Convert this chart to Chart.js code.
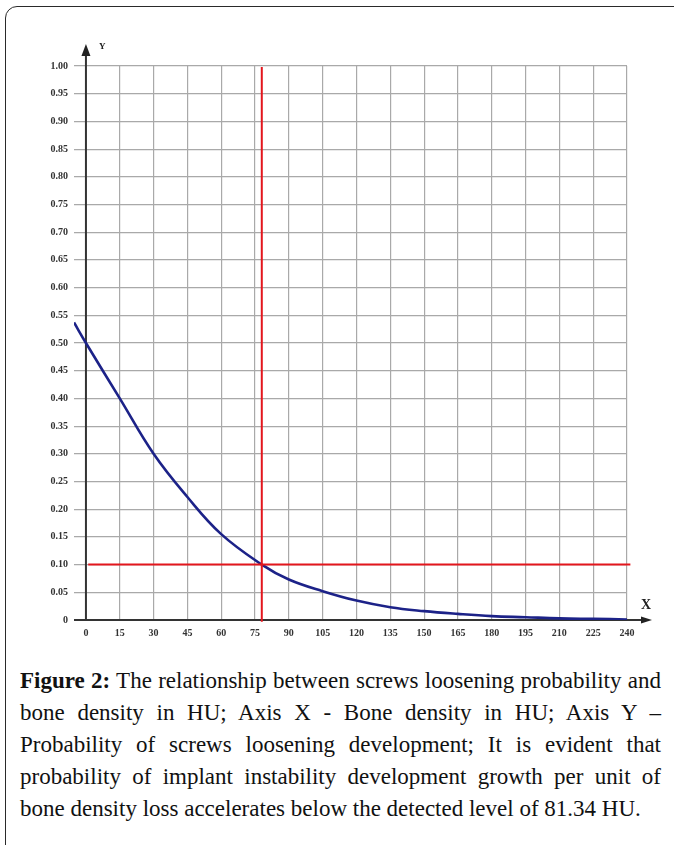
<!DOCTYPE html>
<html>
<head>
<meta charset="utf-8">
<script src="https://cdn.jsdelivr.net/npm/chart.js@4"></script>
<style>
  html, body { margin: 0; padding: 0; background: #fff; }
  body { width: 674px; height: 845px; position: relative; overflow: hidden; }
  #frame {
    position: absolute; left: 5px; top: 6px; width: 720px; height: 900px;
    border: 1.5px solid #2a2a2a; border-radius: 12px; box-sizing: border-box;
  }
  #chart { position: absolute; left: 0; top: 0; }
  #caption {
    position: absolute; left: 20px; top: 665px; width: 641px;
    font-family: "Liberation Serif", serif; font-size: 23px; line-height: 32px; color: #111;
  }
  #caption .ln { text-align: justify; text-align-last: justify; white-space: nowrap; }
  #caption .ln.last { text-align-last: left; }
  #caption b { font-weight: bold; }
</style>
</head>
<body>
<div id="frame"></div>
<canvas id="chart" width="674" height="660"></canvas>
<div id="caption">
  <div class="ln"><b>Figure 2:</b> The relationship between screws loosening probability and</div>
  <div class="ln">bone density in HU; Axis X - Bone density in HU; Axis Y –</div>
  <div class="ln">Probability of screws loosening development; It is evident that</div>
  <div class="ln">probability of implant instability development growth per unit of</div>
  <div class="ln last">bone density loss accelerates below the detected level of 81.34 HU.</div>
</div>
<script>
// значения
const boneDensity = [-5.3, 0, 15, 30, 45, 60, 78, 90, 105, 120, 135, 150, 165, 180, 195, 210, 225, 240];
const probability = [0.537, 0.50, 0.40, 0.30, 0.222, 0.155, 0.10, 0.073, 0.052, 0.035, 0.023, 0.016, 0.011, 0.007, 0.005, 0.003, 0.002, 0.001];
const xTicks = [0, 15, 30, 45, 60, 75, 90, 105, 120, 135, 150, 165, 180, 195, 210, 225, 240];
const yTicks = [0, 0.05, 0.10, 0.15, 0.20, 0.25, 0.30, 0.35, 0.40, 0.45, 0.50, 0.55, 0.60, 0.65, 0.70, 0.75, 0.80, 0.85, 0.90, 0.95, 1.00];
const thresholdX = 78;
const thresholdY = 0.10;

const tickFont = { family: 'Liberation Serif', size: 10, weight: 'bold' };

// стрелки осей и подписи X / Y
const axesPlugin = {
  id: 'axes',
  beforeDatasetsDraw(chart) {
    const ctx = chart.ctx;
    const xs = chart.scales.x, ys = chart.scales.y;
    const x0 = xs.getPixelForValue(0);
    const y0 = ys.getPixelForValue(0);
    const left = chart.chartArea.left;
    ctx.save();
    ctx.strokeStyle = '#333';
    ctx.fillStyle = '#222';
    ctx.lineWidth = 2;
    // ось Y
    ctx.beginPath();
    ctx.moveTo(x0, y0 + 1);
    ctx.lineTo(x0, 55);
    ctx.stroke();
    ctx.beginPath();
    ctx.moveTo(x0 - 4.5, 56);
    ctx.lineTo(x0, 44);
    ctx.lineTo(x0 + 4.5, 56);
    ctx.closePath();
    ctx.fill();
    // ось X
    ctx.beginPath();
    ctx.moveTo(left, y0);
    ctx.lineTo(642, y0);
    ctx.stroke();
    ctx.beginPath();
    ctx.moveTo(641, y0 - 3.5);
    ctx.lineTo(652, y0);
    ctx.lineTo(641, y0 + 3.5);
    ctx.closePath();
    ctx.fill();
    ctx.font = 'bold 9px "Liberation Serif"';
    ctx.textAlign = 'left';
    ctx.textBaseline = 'middle';
    ctx.fillText('Y', x0 + 13, 47);
    ctx.font = 'bold 14px "Liberation Serif"';
    ctx.textAlign = 'center';
    ctx.fillText('X', 646, 605);
    ctx.restore();
  }
};

new Chart(document.getElementById('chart'), {
  type: 'line',
  data: {
    datasets: [
      {
        data: [{ x: thresholdX, y: -0.003 }, { x: thresholdX, y: 0.998 }],
        borderColor: '#e3161d', borderWidth: 2, pointRadius: 0, clip: false
      },
      {
        data: [{ x: 1, y: thresholdY }, { x: 241.5, y: thresholdY }],
        borderColor: '#e3161d', borderWidth: 2, pointRadius: 0, clip: false
      },
      {
        data: boneDensity.map((x, i) => ({ x: x, y: probability[i] })),
        borderColor: '#1c2288', borderWidth: 2.6, pointRadius: 0,
        tension: 0.4
      }
    ]
  },
  options: {
    responsive: false,
    animation: false,
    devicePixelRatio: 1,
    layout: { padding: { top: 66, right: 47, left: 0, bottom: 0 } },
    plugins: { legend: { display: false }, tooltip: { enabled: false } },
    scales: {
      x: {
        type: 'linear', min: -5.3, max: 240,
        afterBuildTicks: s => { s.ticks = xTicks.map(v => ({ value: v })); },
        afterFit: s => { s.height = 40; },
        border: { display: false },
        grid: { color: '#a9a9a9', lineWidth: 1.2, drawTicks: false },
        ticks: { font: tickFont, color: '#333', padding: 7, maxRotation: 0, autoSkip: false,
                 callback: v => String(v) }
      },
      y: {
        type: 'linear', min: 0, max: 1,
        afterBuildTicks: s => { s.ticks = yTicks.map(v => ({ value: v })); },
        afterFit: s => { s.width = 74; },
        border: { display: false },
        grid: { color: '#a9a9a9', lineWidth: 1.2, drawTicks: false },
        ticks: { font: tickFont, color: '#333', padding: 6, autoSkip: false,
                 callback: v => v === 0 ? '0' : v.toFixed(2) }
      }
    }
  },
  plugins: [axesPlugin]
});
</script>
</body>
</html>
